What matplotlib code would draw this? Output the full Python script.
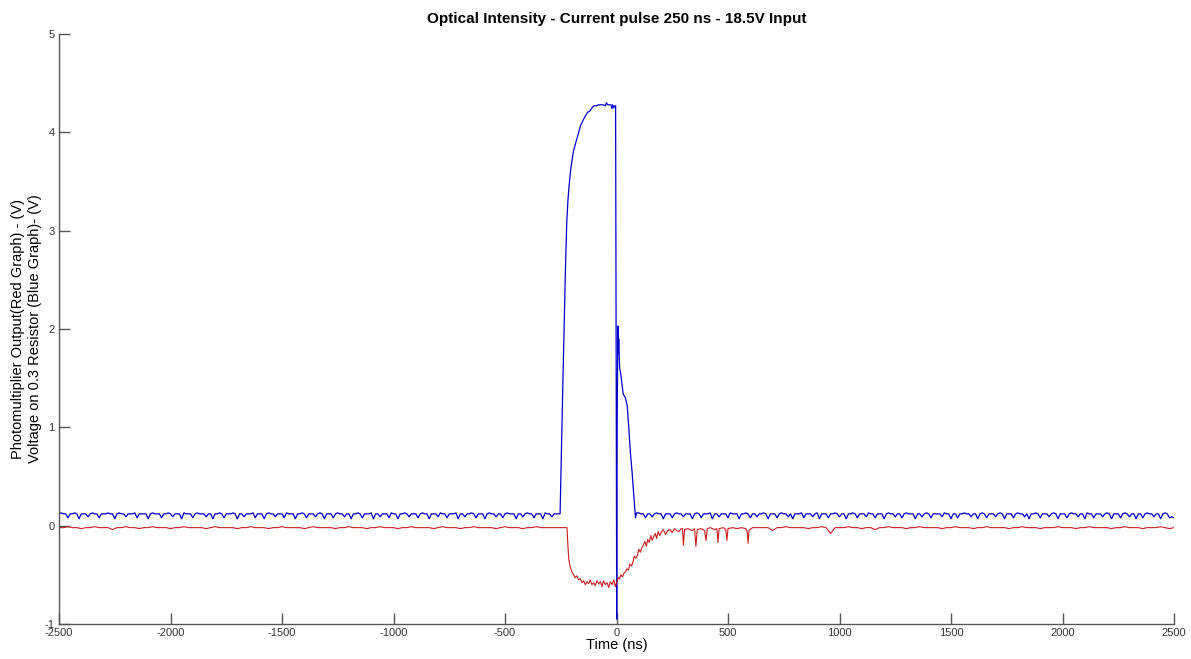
import numpy as np
import matplotlib as mpl
mpl.use('Agg')
import matplotlib.pyplot as plt

mpl.rcParams['font.family'] = ['Liberation Sans', 'DejaVu Sans']
mpl.rcParams['axes.unicode_minus'] = False

# ---- data (volts, time in ns) ----
# blue baseline sampled every 10 ns, values in centivolts
blue_pre_cV = [12,13,12,12,8,12,12,13,12,7,12,12,12,9,12,
               13,12,12,8,12,12,12,13,12,12,7,12,13,12,12,
               9,12,12,12,13,8,12,12,12,12,7,12,13,12,12,
               12,8,12,12,13,12,9,12,12,12,7,13,12,12,12,
               8,12,13,12,12,12,9,12,12,7,12,12,13,12,8,
               12,12,12,13,12,7,12,12,9,12,12,12,13,8,12,
               12,12,7,12,13,12,12,9,12,12,12,8,13,12,12,
               12,7,12,12,13,12,8,12,12,12,9,12,13,12,7,
               12,12,12,8,12,13,12,12,9,12,12,7,12,12,13,
               12,8,12,12,12,13,7,12,12,9,12,12,12,8,13,
               12,12,7,12,12,13,12,9,12,12,12,8,12,13,12,
               12,7,12,12,12,9,13,12,12,8,12,12,12,13,7,
               12,12,9,12,12,13,12,8,12,12,12,7,12,13,12,
               12,9,12,12,8,12,13,12,12,12,7,12,12,9,12,
               13,12,12,8,12,12,12,7,13,12,12,9,12,12,12]
blue_pulse_t = [-253,-249,-246,-240,-235,-229,-223,-218,-213,-205,-199,-193,-183,-172,-161,
                -146,-131,-118,-110,-101,-90,-80,-60,-50,-45,-40,-25,-20,-17,-12,-8,-4,
                -1,1,3,6,8,10,14,18,24,30,40,48,55,62,70,78,85,90]
blue_pulse_v = [0.12,0.55,0.90,1.50,1.99,2.60,3.09,3.30,3.45,3.63,3.72,3.81,3.89,3.98,4.07,
                4.14,4.20,4.22,4.25,4.27,4.27,4.28,4.28,4.27,4.30,4.28,4.28,4.24,4.28,4.25,4.27,4.27,
                1.00,-0.95,1.00,2.03,1.75,1.90,1.60,1.56,1.45,1.34,1.30,1.22,1.00,0.75,0.54,0.30,0.08,0.13]
blue_post_cV = [13,12,12,8,12,12,9,12,13,12,12,7,12,12,12,
                8,12,13,12,12,9,12,12,12,7,12,13,12,8,12,
                12,12,13,7,12,12,9,12,12,12,8,13,12,12,12,
                7,12,12,13,12,8,12,12,9,12,12,13,12,7,12,
                12,12,8,12,13,12,12,9,12,7,12,12,12,13,8,
                12,12,12,9,12,13,7,12,12,12,8,12,12,13,12,
                9,12,12,7,12,12,13,12,8,12,12,12,9,13,12,
                12,8,12,12,12,7,12,13,12,12,9,12,12,8,12,
                13,12,12,12,7,12,12,9,12,13,12,8,12,12,12,
                12,9,13,12,12,7,12,12,8,12,12,13,12,12,9,
                12,12,7,12,13,12,8,12,12,12,9,12,13,12,7,
                12,12,12,8,12,13,12,12,9,12,7,12,12,13,12,
                8,12,12,12,9,12,13,12,7,12,12,12,8,12,13,
                12,12,9,12,12,7,13,12,12,8,12,12,12,9,12,
                13,12,7,12,12,12,8,12,13,12,9,12,12,7,12,
                12,8,12,13,12,12,9,12,12,7,12,13,12,8,9,
                8]

# red baseline sampled every 20 ns, values in centivolts
red_pre_cV = [-2,-2,-1,-2,-2,-3,-2,-2,-1,-2,
              -2,-2,-4,-2,-2,-1,-2,-2,-3,-2,
              -2,-1,-2,-2,-2,-3,-2,-2,-1,-2,
              -2,-2,-2,-3,-2,-1,-2,-2,-2,-2,
              -3,-2,-2,-1,-2,-2,-2,-3,-2,-2,
              -1,-2,-2,-2,-2,-3,-2,-1,-2,-2,
              -2,-2,-3,-2,-2,-1,-2,-2,-2,-3,
              -2,-2,-1,-2,-2,-2,-3,-2,-2,-1,
              -2,-2,-2,-2,-3,-2,-1,-2,-2,-2,
              -3,-2,-2,-1,-2,-2,-2,-2,-3,-2,
              -1,-2,-2,-2,-3,-2,-2,-1,-2,-2,
              -2,-2,-2,-2]
red_pulse_t = [-230,-222,-218,-214,-208,-200,-192,-185,-178,-170,-162,-155,-147,-140,-132,
               -125,-118,-110,-102,-95,-88,-80,-72,-65,-58,-50,-42,-35,-28,-20,-12,-5,
               2,8,14,20,27,34,40,47,54,60,67,74,80,87,94,100,107,114,120,127,134,140,
               147,154,160,167,174,180,187,194,200,210,220,230,240,250,260,270,280,290,
               296,300,305,320,340,350,356,362,380,395,401,407,420,440,450,455,460,480,
               490,495,500,520,540,560,580,586,590,594,610,630]
red_pulse_v = [-0.02,-0.02,-0.20,-0.34,-0.42,-0.47,-0.50,-0.53,-0.51,-0.55,-0.54,-0.58,-0.56,-0.60,-0.57,
               -0.59,-0.55,-0.60,-0.58,-0.61,-0.56,-0.59,-0.57,-0.62,-0.56,-0.60,-0.58,-0.63,-0.57,-0.60,-0.55,-0.62,
               -0.57,-0.53,-0.54,-0.50,-0.52,-0.48,-0.47,-0.44,-0.45,-0.39,-0.41,-0.37,-0.31,-0.33,-0.30,-0.24,-0.27,-0.22,-0.20,-0.16,-0.21,-0.14,
               -0.17,-0.10,-0.15,-0.11,-0.08,-0.13,-0.06,-0.10,-0.07,-0.04,-0.09,-0.05,-0.04,-0.07,-0.03,-0.05,-0.06,-0.03,
               -0.03,-0.20,-0.04,-0.03,-0.05,-0.03,-0.21,-0.04,-0.03,-0.05,-0.15,-0.03,-0.02,-0.04,-0.03,-0.17,-0.03,-0.02,
               -0.04,-0.15,-0.03,-0.02,-0.03,-0.02,-0.03,-0.06,-0.18,-0.05,-0.02,-0.02]
red_post_cV = [-2,-2,-2,-5,-2,-2,-1,-2,-2,-2,
               -2,-3,-2,-2,-1,-2,-8,-2,-2,-2,
               -1,-2,-2,-3,-2,-2,-4,-2,-2,-1,
               -2,-2,-2,-3,-2,-2,-1,-2,-2,-2,
               -2,-3,-2,-2,-1,-2,-2,-2,-3,-2,
               -2,-1,-2,-2,-2,-2,-3,-2,-2,-1,
               -2,-2,-2,-3,-2,-2,-2,-1,-2,-2,
               -2,-3,-2,-2,-1,-2,-2,-2,-2,-3,
               -2,-2,-1,-2,-2,-2,-3,-2,-2,-2,
               -1,-2,-3,-2]

# assemble full records
blue_t = np.concatenate([-2500 + 10*np.arange(len(blue_pre_cV)), blue_pulse_t,
                         100 + 10*np.arange(len(blue_post_cV))])
blue_v = np.concatenate([np.array(blue_pre_cV)/100., blue_pulse_v, np.array(blue_post_cV)/100.])
red_t = np.concatenate([-2500 + 20*np.arange(len(red_pre_cV)), red_pulse_t,
                        640 + 20*np.arange(len(red_post_cV))])
red_v = np.concatenate([np.array(red_pre_cV)/100., red_pulse_v, np.array(red_post_cV)/100.])

fig = plt.figure(figsize=(11.91, 6.59), dpi=100)
ax = fig.add_axes([59/1191., 35/659., 1115/1191., 590/659.])

ax.plot(blue_t, blue_v, color='#0000c8', lw=0.9)
ax.plot(red_t, red_v, color='#c81e1e', lw=0.8)

ax.set_xlim(-2500, 2500)
ax.set_ylim(-1, 5)
ax.set_xticks(np.arange(-2500, 2501, 500))
ax.set_yticks(np.arange(-1, 6, 1))
ax.spines['top'].set_visible(False)
ax.spines['right'].set_visible(False)
for s in ['left', 'bottom']:
    ax.spines[s].set_color('#555555')
    ax.spines[s].set_linewidth(1.0)
ax.tick_params(direction='in', length=8, width=1, color='#555555',
               labelsize=8, labelcolor='#333333', pad=3)

ax.set_title('Optical Intensity - Current pulse 250 ns - 18.5V Input',
             fontsize=11, fontweight='bold', pad=8)
ax.set_xlabel('Time (ns)', fontsize=10.5, labelpad=0)
ax.set_ylabel('Photomultiplier Output(Red Graph) - (V)\nVoltage on 0.3 Resistor (Blue Graph)- (V)',
              fontsize=10.5, linespacing=1.25)
ax.yaxis.set_label_coords(-0.0155, 0.5)

plt.savefig('out.png', dpi=100)
